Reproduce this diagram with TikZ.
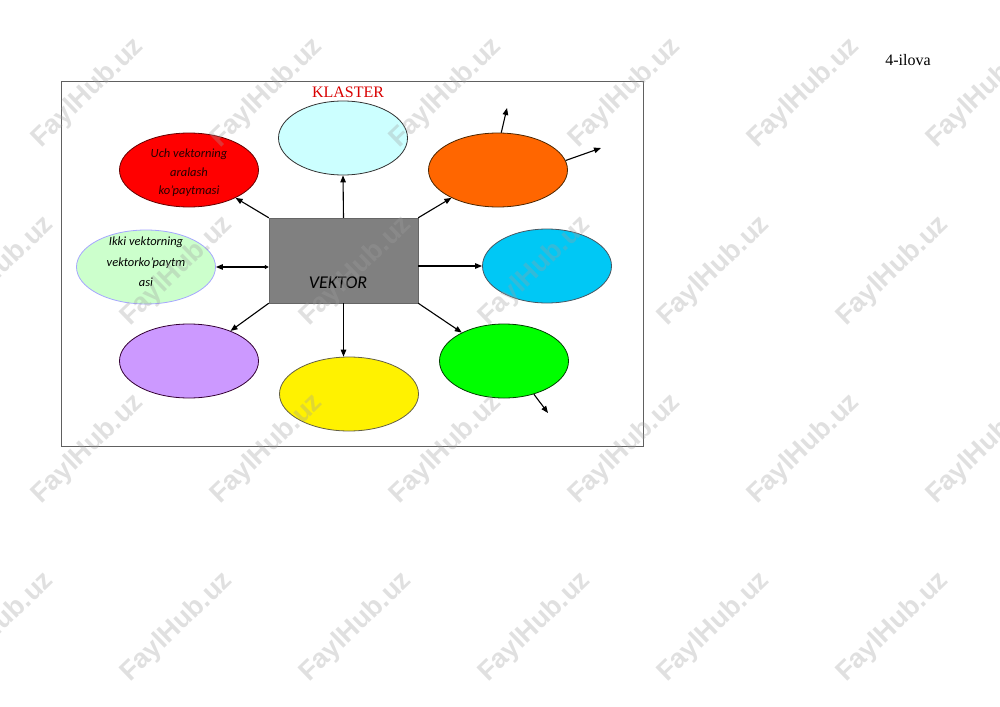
\documentclass[tikz,border=0pt]{standalone}
\usepackage{fontspec}
\setmainfont{Liberation Serif}
\newfontfamily\calfont{Carlito}
\newfontfamily\wmfont{Liberation Sans}
\usetikzlibrary{shapes.geometric,arrows.meta}
\definecolor{cyLight}{RGB}{204,255,255}
\definecolor{lgFill}{RGB}{204,255,204}
\definecolor{orFill}{RGB}{255,102,0}
\definecolor{sbFill}{RGB}{0,200,245}
\definecolor{puFill}{RGB}{204,153,255}
\definecolor{boxGray}{RGB}{128,128,128}
\begin{document}
\begin{tikzpicture}[x=1pt,y=-1pt,
  bub/.style={ellipse,line width=0.8pt,inner sep=0pt,minimum width=139pt,minimum height=74pt},
  nbub/.style={bub,minimum width=129pt},
  btxt/.style={inner sep=0pt,align=center,font=\calfont\itshape\fontsize{12.5}{#1}\selectfont},
  conn/.style={line width=1.1pt,-{Triangle[length=7pt,width=5.5pt]}},
  wm/.style={rotate=44,font=\wmfont\bfseries\fontsize{27}{27}\selectfont,text=gray!75,text opacity=0.32,inner sep=0pt}]
\useasboundingbox (0,0) rectangle (1000,706);
\fill[white] (0,0) rectangle (1000,706);
% frame
\draw[gray!75!black,line width=0.9pt] (61,81) rectangle (643,446);
\node[font=\fontsize{16}{16}\selectfont,text=red!85!black] (kl) at (348,92) {KLASTER};
\node[font=\fontsize{16}{16}\selectfont] (il) at (908,60) {4-ilova};
% central box
\node[rectangle,fill=boxGray,draw=gray!80!black,minimum width=149pt,minimum height=85pt,inner sep=0pt] (v) at (343.5,260.5) {};
\node[font=\calfont\itshape\fontsize{18}{18}\selectfont] (vt) at (338,283) {VEKTOR};
% ellipses
\node[nbub,fill=cyLight,draw=black!80] (cy) at (343,138) {};
\node[bub,fill=red,draw=red!40!black] (re) at (189,170) {};
\node[btxt=18.5,text=black!85!red] (ret) at (189,173) {Uch vektorning\\aralash\\ko’paytmasi};
\node[bub,fill=lgFill,draw=blue!35] (lg) at (146,267) {};
\node[btxt=20.5] (lgt) at (146,262) {Ikki vektorning\\vektorko’paytm\\asi};
\node[bub,fill=orFill,draw=orange!30!black] (or) at (498,170) {};
\node[nbub,fill=sbFill,draw=cyan!30!black] (sb) at (547,266) {};
\node[nbub,fill=green,draw=green!25!black] (gr) at (504,361) {};
\node[bub,fill=puFill,draw=violet!40!black] (pu) at (189,361) {};
\node[bub,fill=yellow,draw=yellow!30!black] (ye) at (349,394) {};
% connectors
\draw[conn] (v.north) -- (cy.south);
\draw[conn] (v.north west) -- (re);
\draw[conn] (v.north east) -- (or);
\draw[conn] (v.south west) -- (pu);
\draw[conn] (v.south east) -- (gr);
\draw[conn] (v.south) -- (v.south |- ye.north);
\draw[conn] (v.east |- sb.west) -- (sb.west);
\draw[line width=1.1pt,{Triangle[length=7pt,width=5.5pt]}-{Triangle[length=4pt,width=4pt]}] (lg.east) -- (v.west |- lg.east);
\coordinate (o1) at (507,108);
\coordinate (o2) at (601,148);
\coordinate (g1) at (548,413);
\draw[conn] (or.85) -- (o1);
\draw[conn] (or.8) -- (o2);
\draw[conn] (gr.-48) -- (g1);
% watermarks
\foreach \r in {0,1,2,3}{
  \foreach \k in {0,...,5}{
    \pgfmathsetmacro{\wx}{(mod(\r,2)==0 ? 88 : -2)+179*\k}
    \pgfmathsetmacro{\wy}{93+178*\r}
    \node[wm] (wm-\r-\k) at (\wx,\wy) {FaylHub.uz};
  }
}
\end{tikzpicture}
\end{document}
